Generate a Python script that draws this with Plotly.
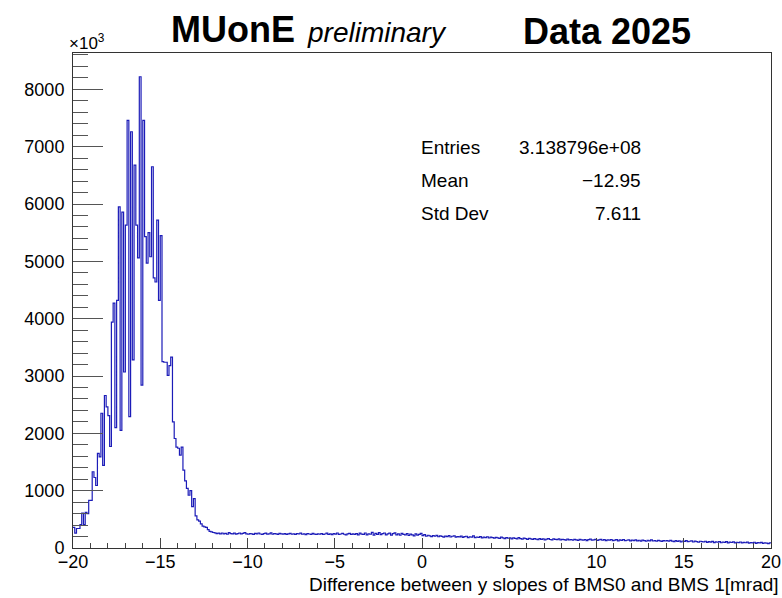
import plotly.graph_objects as go

# ---------------- data (counts in units of 10^3) ----------------
X_MIN = -20.0
BIN_WIDTH = 0.1

counts_peak = [
    360, 260, 340, 340, 410, 610, 410, 620, 600, 830,
    830, 1330, 1230, 1090, 1650, 1590, 2350, 1440, 2660, 2460,
    2310, 1770, 3940, 4270, 2100, 4320, 5950, 2050, 5860, 3070,
    5630, 7460, 2290, 7260, 3280, 6680, 5630, 5060, 8220, 2840,
    7460, 5430, 4970, 5500, 5080, 6650, 4710, 4640, 5720, 4320,
    5450, 3250, 3240, 3240, 3010, 3180, 3330, 2200, 1910, 1760,
    1740, 1620, 1760, 1360, 1170, 1040, 920, 1000, 720, 860,
    560, 490, 470, 420, 380, 370, 360, 320, 290, 280, 270,
]

counts_tail = [
    265, 250, 258, 245, 262, 248, 255, 240, 268, 252, 246, 258, 242, 250, 262, 245, 255, 270, 248, 240,
    252, 246, 238, 255, 248, 262, 244, 236, 250, 258, 242, 248, 265, 240, 252, 245, 238, 256, 248, 242,
    250, 238, 246, 255, 240, 248, 236, 252, 244, 258, 240, 246, 232, 250, 244, 238, 255, 242, 236, 248,
    240, 252, 236, 244, 258, 238, 246, 232, 250, 242, 262, 236, 244, 255, 240, 230, 248, 256, 238, 245,
    236, 250, 228, 258, 242, 236, 262, 230, 248, 240, 272, 225, 255, 238, 268, 232, 250, 262, 228, 245,
    258, 226, 250, 264, 230, 246, 222, 255, 238, 228, 250, 218, 242, 230, 212, 248, 225, 236, 256, 215,
    232, 205, 222, 210, 198, 215, 205, 220, 196, 212, 202, 190, 208, 198, 215, 192, 205, 212, 188, 200,
    195, 208, 186, 198, 205, 182, 196, 188, 210, 180, 192, 185, 200, 176, 190, 182, 196, 174, 188, 180,
    172, 186, 178, 168, 190, 175, 165, 182, 170, 178, 160, 175, 168, 158, 180, 165, 155, 172, 162, 150,
    168, 158, 150, 165, 155, 145, 162, 150, 158, 142, 155, 165, 148, 140, 158, 150, 145, 160, 140, 152,
    145, 138, 155, 142, 148, 135, 152, 140, 132, 150, 142, 138, 148, 130, 145, 155, 136, 142, 150, 132,
    140, 150, 135, 145, 128, 142, 138, 148, 130, 136, 145, 125, 140, 132, 148, 128, 135, 142, 124, 138,
    130, 142, 125, 135, 120, 138, 128, 118, 135, 126, 140, 122, 130, 118, 132, 125, 115, 130, 122, 128,
    118, 132, 120, 112, 128, 115, 125, 108, 122, 115, 130, 110, 118, 125, 105, 120, 112, 100, 118, 110,
    105, 118, 98, 112, 102, 115, 95, 108, 100, 112, 92, 105, 98, 110, 90, 102, 96, 108, 88, 100,
    95, 105, 88, 98, 92, 102, 85, 96, 90, 100, 82, 94, 88, 98, 80, 92, 86, 78, 90,
]

y_tick_vals = [0, 1000, 2000, 3000, 4000, 5000, 6000, 7000, 8000]
x_tick_vals = [-20, -15, -10, -5, 0, 5, 10, 15, 20]

stats_labels = ["Entries", "Mean", "Std Dev"]
stats_values = ["3.138796e+08", "\u221212.95", "7.611"]

x_title = "Difference between y slopes of BMS0 and BMS 1[mrad]"

# ---------------- figure ----------------
counts = counts_peak + counts_tail
n = len(counts)
edges = [X_MIN + BIN_WIDTH * i for i in range(n + 1)]
ys = counts + [counts[-1]]

FONT = "Liberation Sans"
W, H = 782, 598
L, R, T, B = 73, 11, 53, 50
pw, ph = W - L - R, H - T - B


def px(x):
    return (x - L) / pw


def py(y):
    return (H - B - y) / ph


fig = go.Figure()
fig.add_trace(go.Scatter(
    x=edges, y=ys, mode="lines",
    line=dict(shape="hv", color="#1c1cb8", width=1.2),
    hoverinfo="skip", showlegend=False,
))

fig.update_layout(
    width=W, height=H,
    margin=dict(l=L, r=R, t=T, b=B, pad=0, autoexpand=False),
    paper_bgcolor="white", plot_bgcolor="white",
    font=dict(family=FONT, color="black", size=18),
    showlegend=False,
)

fig.update_xaxes(
    range=[-20, 20], tickvals=x_tick_vals, automargin=False,
    ticks="inside", ticklen=10, tickwidth=1, tickcolor="#444",
    minor=dict(ticks="inside", ticklen=5, dtick=1, tickcolor="#444", tickwidth=1),
    showline=True, linecolor="#333", linewidth=1, mirror=True,
    showgrid=False, zeroline=False,
    tickfont=dict(family=FONT, size=18),
    ticklabelstandoff=-3,
)
fig.update_yaxes(
    range=[0, 8634], tickvals=y_tick_vals, automargin=False,
    ticks="inside", ticklen=30, tickwidth=1, tickcolor="#555",
    minor=dict(ticks="inside", ticklen=15, dtick=200, tickcolor="#555", tickwidth=1),
    showline=True, linecolor="#333", linewidth=1, mirror=True,
    showgrid=False, zeroline=False,
    tickfont=dict(family=FONT, size=18),
    ticklabelstandoff=4,
)

ann = []
ann.append(dict(text="\u00d710<sup>3</sup>", x=px(67), y=py(42), xref="paper", yref="paper",
                xanchor="left", yanchor="middle", showarrow=False,
                font=dict(family=FONT, size=17)))
ann.append(dict(text="<b>MUonE</b>", x=px(233), y=py(30), xref="paper", yref="paper",
                xanchor="center", yanchor="middle", showarrow=False,
                font=dict(family=FONT, size=36)))
ann.append(dict(text="<i>preliminary</i>", x=px(377), y=py(33), xref="paper", yref="paper",
                xanchor="center", yanchor="middle", showarrow=False,
                font=dict(family=FONT, size=28)))
ann.append(dict(text="<b>Data 2025</b>", x=px(607), y=py(32), xref="paper", yref="paper",
                xanchor="center", yanchor="middle", showarrow=False,
                font=dict(family=FONT, size=36)))
for lab, val, yy in zip(stats_labels, stats_values, [147, 180, 213]):
    ann.append(dict(text=lab, x=px(419), y=py(yy), xref="paper", yref="paper",
                    xanchor="left", yanchor="middle", showarrow=False,
                    font=dict(family=FONT, size=19)))
    ann.append(dict(text=val, x=px(643), y=py(yy), xref="paper", yref="paper",
                    xanchor="right", yanchor="middle", showarrow=False,
                    font=dict(family=FONT, size=19)))
ann.append(dict(text=x_title, x=px(781), y=py(584), xref="paper", yref="paper",
                xanchor="right", yanchor="middle", showarrow=False,
                font=dict(family=FONT, size=19)))
fig.update_layout(annotations=ann)

fig.write_html("out.html", config={"displayModeBar": False},
               post_script="document.body.style.margin='0';")
